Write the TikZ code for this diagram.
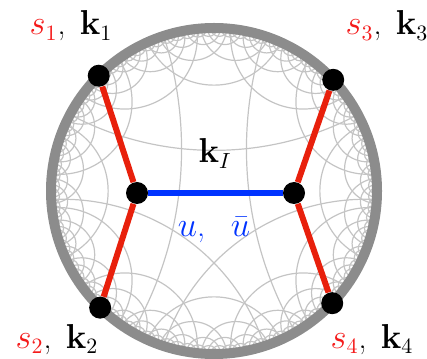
\documentclass[tikz,border=0pt]{standalone}
\usepackage{xcolor}
\usetikzlibrary{positioning}
\definecolor{rimgray}{HTML}{8C8C8C}
\definecolor{tilegray}{HTML}{C4C4C4}
\definecolor{legred}{HTML}{E8200C}
\definecolor{labred}{HTML}{F41A1A}
\definecolor{propblue}{HTML}{0033FF}

% one geodesic of the disk, between two boundary angles
\newcommand{\geod}[2]{%
  \pgfmathsetmacro{\gcM}{((#1)+(#2))/2}%
  \pgfmathsetmacro{\gcH}{((#2)-(#1))/2}%
  \pgfmathsetmacro{\gcD}{163/cos(\gcH)}%
  \pgfmathsetmacro{\gcR}{163*tan(\gcH)}%
  \draw[tile] ([shift={(\gcM:\gcD)}]c) circle[radius=\gcR];}

\begin{document}
\begin{tikzpicture}[x=0.5pt, y=0.5pt, font=\fontsize{16}{19}\selectfont,
  rim/.style={draw=rimgray, line width=5pt},
  tile/.style={draw=tilegray, line width=0.6pt},
  vert/.style={circle, fill=black, inner sep=0pt, minimum size=11pt},
  leg/.style={draw=legred, line width=3pt},
  prop/.style={draw=propblue, line width=3.2pt},
  lab/.style={anchor=base, inner sep=0pt}]

\useasboundingbox (0,0) rectangle (427,358);
\coordinate (c) at (214,167);

% tiling, clipped to the disk
\begin{scope}
  \clip (c) circle[radius=163];
  \foreach \a/\b in {28/152, 108/240, -60/72, 183/288, 252/357}
    \geod{\a}{\b};
  \foreach \n/\h/\o in {12/24/0, 24/12/7.5, 48/6/3.75, 96/3/1.9}
    \foreach \i in {1,...,\n}
      \geod{\o+\i*(360/\n)-\h}{\o+\i*(360/\n)+\h};
\end{scope}
\draw[rim] (c) circle[radius=163];

\node[vert] (s1) at ([shift={(135:163)}]c) {};
\node[vert] (s2) at ([shift={(225.7:163)}]c) {};
\node[vert] (s3) at ([shift={(43:163)}]c) {};
\node[vert] (s4) at ([shift={(316.5:163)}]c) {};
\node[vert] (vl) at (137,165) {};
\node[vert] (vr) at (294,165) {};

\draw[leg] (s1) -- (vl);
\draw[leg] (s2) -- (vl);
\draw[leg] (s3) -- (vr);
\draw[leg] (s4) -- (vr);
\draw[prop] (vl) -- (vr);

\node[lab] (l1) at (71,323) {$\textcolor{labred}{s_1}$,\hspace{0.45em}$\mathbf{k}_1$};
\node[lab] (l3) at (387,323) {$\textcolor{labred}{s_3}$,\hspace{0.45em}$\mathbf{k}_3$};
\node[lab] (l2) at (57,10) {$\textcolor{labred}{s_2}$,\hspace{0.45em}$\mathbf{k}_2$};
\node[lab] (l4) at (372,10) {$\textcolor{labred}{s_4}$,\hspace{0.45em}$\mathbf{k}_4$};
\node[lab] (kI) at (215,195) {$\mathbf{k}_I$};
\node[lab, text=propblue] (uu) at (214,121) {$u$,\hspace{0.8em}$\bar{u}$};
\end{tikzpicture}
\end{document}
